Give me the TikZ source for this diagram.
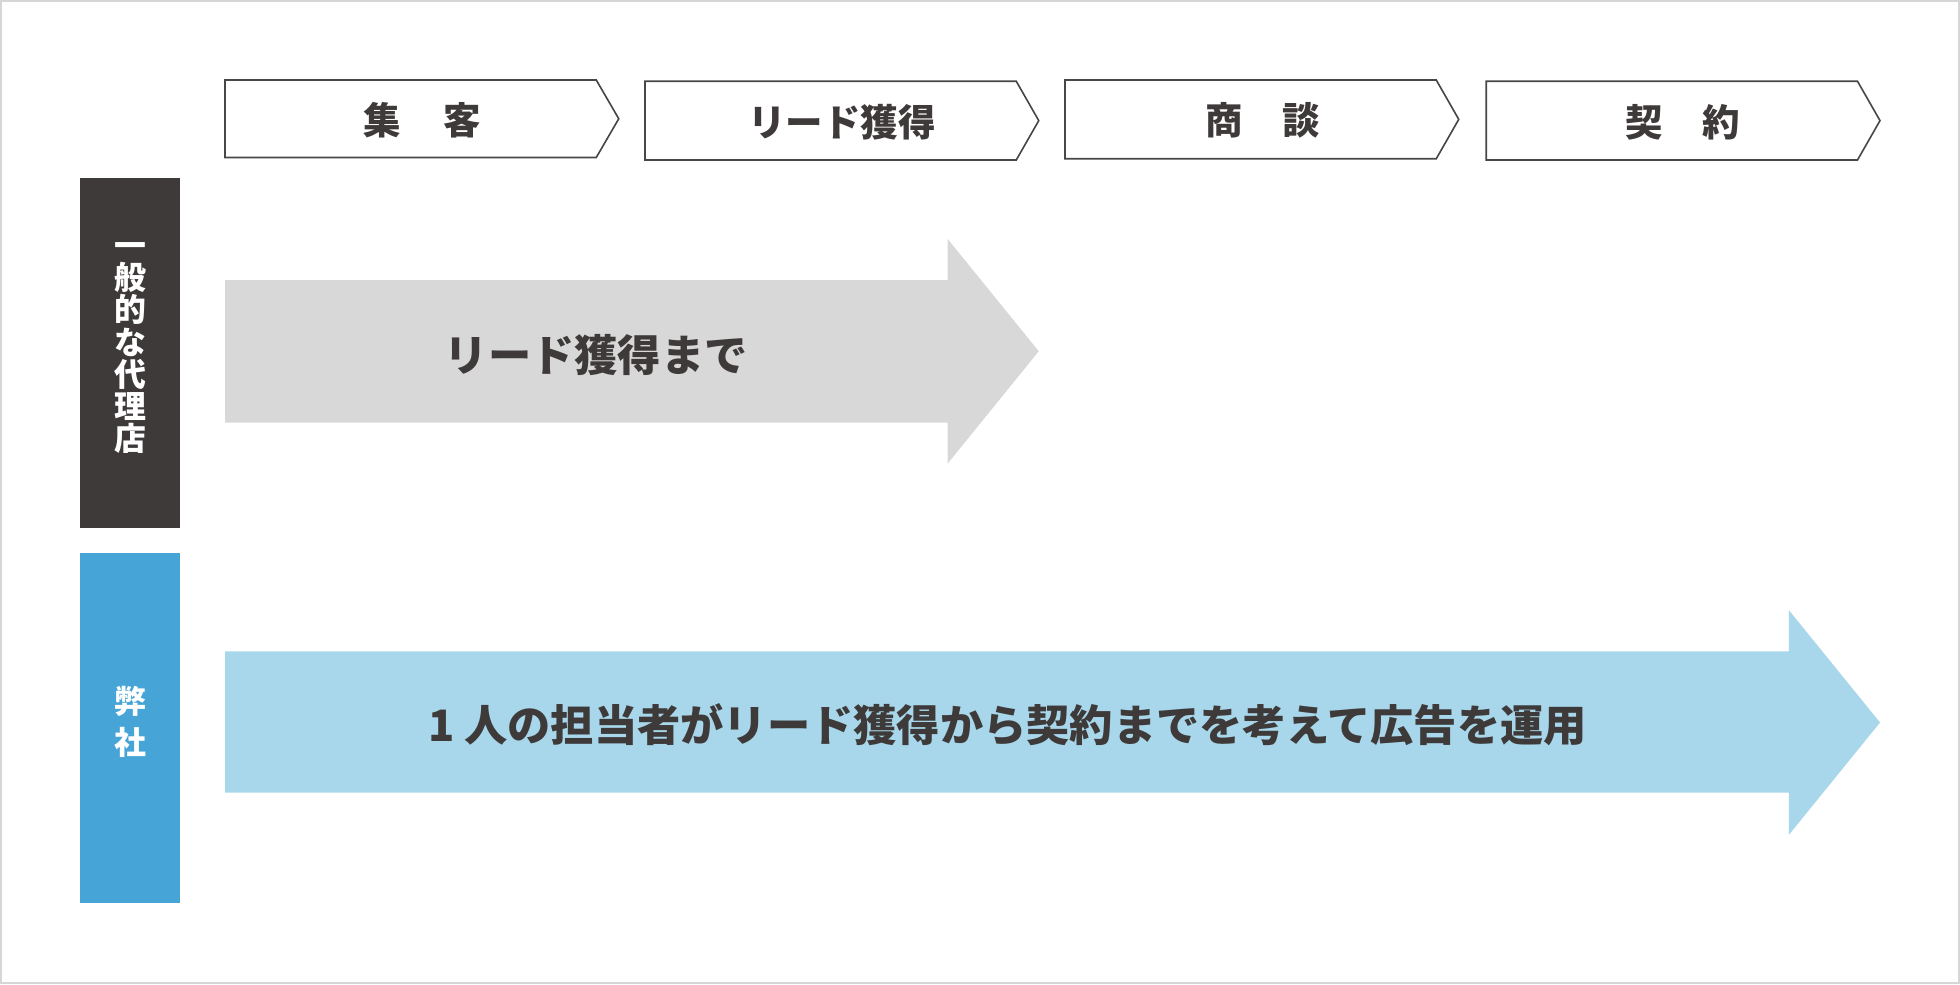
\documentclass[tikz,border=0pt]{standalone}
\usepackage{fontspec}
\setmainfont{Noto Sans CJK JP}
\definecolor{ink}{HTML}{3E3A39}
\definecolor{agencycol}{HTML}{3E3A39}
\definecolor{ourcol}{HTML}{46A5D6}
\definecolor{ourlight}{HTML}{A8D6EA}
\definecolor{greyarrow}{HTML}{D8D8D8}
\definecolor{framecol}{HTML}{D6D6D6}
\definecolor{chevline}{HTML}{474747}
\begin{document}
\begin{tikzpicture}[x=1pt,y=-1pt,
  chev/.style={draw=chevline, line width=1.3pt, fill=white, line join=miter},
  headtxt/.style={text=ink, font=\fontsize{30}{30}\selectfont\bfseries, inner sep=0pt},
  bigtxt/.style={text=ink, font=\fontsize{34.6}{34.6}\selectfont\bfseries, inner sep=0pt},
  sidebox/.style={draw=none, inner sep=0pt, minimum width=80pt, minimum height=280pt},
  sidetxt/.style={text=white, align=center, inner sep=0pt}]
\useasboundingbox (0,0) rectangle (1568,787.2);
\draw[framecol, line width=1.6pt] (0.8,0.8) rectangle (1567.2,786.4);

% stage chevrons
\draw[chev] (180,64) -- (477,64) -- (495,95) -- (477,126) -- (180,126) -- cycle;
\draw[chev] (516,65) -- (813,65) -- (831,96.5) -- (813,128) -- (516,128) -- cycle;
\draw[chev] (852,64) -- (1149,64) -- (1167,95.5) -- (1149,127) -- (852,127) -- cycle;
\draw[chev] (1189,65) -- (1486,65) -- (1504,96.5) -- (1486,128) -- (1189,128) -- cycle;
\node[headtxt] (s1) at (337.5,96) {集\hspace{34pt}客};
\node[headtxt] (s2) at (673.5,97.5) {リード獲得};
\node[headtxt] (s3) at (1010,96.5) {商\hspace{32pt}談};
\node[headtxt] (s4) at (1346,97.5) {契\hspace{32pt}約};

% side labels
\node[sidebox, fill=agencycol] (agency) at (104,282) {};
\node[sidetxt, font=\fontsize{25.5}{25.8}\selectfont\bfseries] (agencytxt) at (104,278.5)
  {一\\般\\的\\な\\代\\理\\店};
\node[sidebox, fill=ourcol] (ours) at (104,582) {};
\node[sidetxt, font=\fontsize{25.5}{33.5}\selectfont\bfseries] (ourstxt) at (104,577.5)
  {弊\\社};

% big arrows
\fill[greyarrow] (180,224) -- (758,224) -- (758,191) -- (831,281) -- (758,371)
  -- (758,338) -- (180,338) -- cycle;
\fill[ourlight] (180,521) -- (1431,521) -- (1431,488) -- (1504,578) -- (1431,668)
  -- (1431,634) -- (180,634) -- cycle;
\node[bigtxt] (leadtxt) at (477,284) {リード獲得まで};
\node[bigtxt] (onetxt) at (806,580) {1 人の担当者がリード獲得から契約までを考えて広告を運用};
\end{tikzpicture}
\end{document}
